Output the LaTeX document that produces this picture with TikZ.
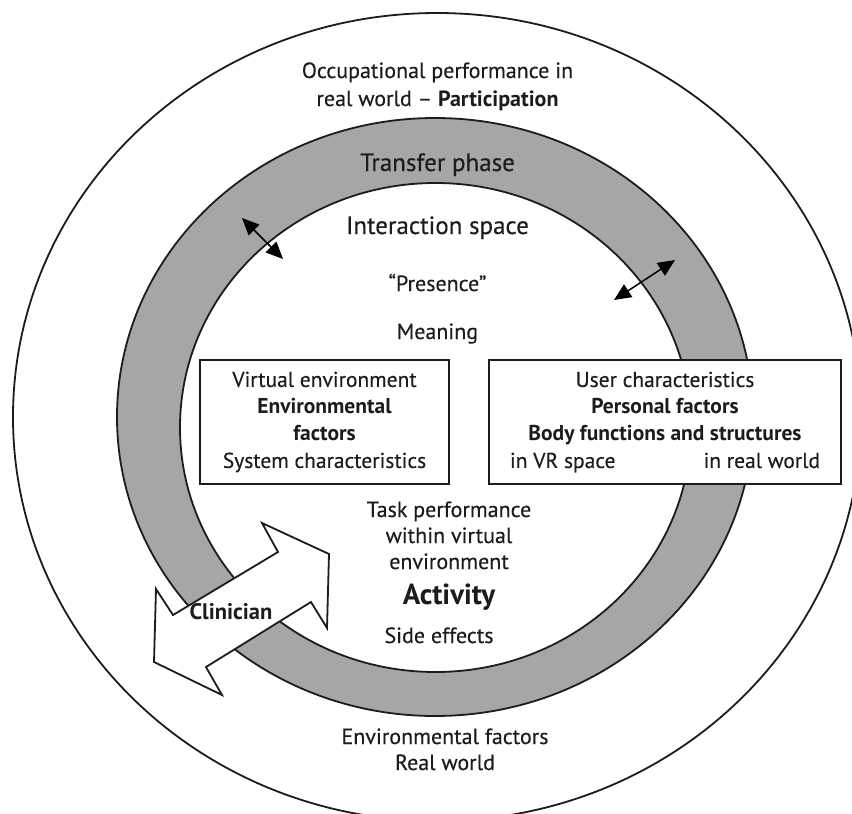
\documentclass[tikz,border=0pt]{standalone}
\usepackage{fontspec}
\setmainfont{PT Sans}[UprightFeatures={FakeBold=0.25}]
\usetikzlibrary{arrows.meta}
\definecolor{ringgray}{RGB}{166,166,166}
\definecolor{ink}{RGB}{28,28,28}
\tikzset{
  circ/.style={draw=ink, line width=1.8pt},
  boxst/.style={draw=ink, line width=1.8pt, fill=white, align=center, inner sep=0pt,
    text=ink, font=\fontsize{21.5}{27}\selectfont},
  lbl/.style={anchor=base, inner sep=0pt, text=ink, font=\fontsize{22}{26}\selectfont},
  biglbl/.style={anchor=base, inner sep=0pt, text=ink, font=\fontsize{25}{29}\selectfont},
  actlbl/.style={anchor=base, inner sep=0pt, text=ink, font=\fontsize{29}{33}\selectfont\bfseries},
  dblarrow/.style={draw=black, line width=1.5pt,
    {Triangle[length=17pt,width=15pt]}-{Triangle[length=17pt,width=15pt]}},
  blockarrow/.style={draw=ink, line width=1.8pt, fill=white, line join=miter},
}
\begin{document}
\begin{tikzpicture}[x=1pt,y=-1pt]
\useasboundingbox (0,0) rectangle (852,814);
\fill[white] (0,0) rectangle (852,814);
% outer circle
\draw[circ] (437,417) ellipse [x radius=424pt, y radius=404pt];
% transfer ring
\fill[ringgray, even odd rule] (435,417) ellipse [x radius=318pt, y radius=299pt]
  (435.5,427.5) ellipse [x radius=255.5pt, y radius=244.5pt];
\draw[circ] (435,417) ellipse [x radius=318pt, y radius=299pt];
\draw[circ] (435.5,427.5) ellipse [x radius=255.5pt, y radius=244.5pt];

% boxes
\node[boxst, minimum width=249pt, minimum height=124pt] (vbox) at (324.5,422)
  {Virtual environment\\\textbf{Environmental}\\\textbf{factors}\\System characteristics};
\node[boxst, minimum width=352pt, minimum height=124pt] (ubox) at (665,422)
  {User characteristics\\\textbf{Personal factors}\\\textbf{Body functions and structures}\\\makebox[310pt]{in VR space\hfill in real world}};

% small double arrows
\coordinate (a1) at (242,218);
\coordinate (a2) at (283,259);
\draw[dblarrow] (a1) -- (a2);
\coordinate (b1) at (614,300);
\coordinate (b2) at (675,260);
\draw[dblarrow] (b1) -- (b2);

% clinician block arrow
\coordinate (p1) at (262,523);
\coordinate (p2) at (329,554);
\coordinate (p3) at (327,628);
\coordinate (p4) at (311,602);
\coordinate (p5) at (206,667);
\coordinate (p6) at (222,695);
\coordinate (p7) at (154,662);
\coordinate (p8) at (156,589);
\coordinate (p9) at (173,615);
\coordinate (p10) at (278,552);
\draw[blockarrow] (p1) -- (p2) -- (p3) -- (p4) -- (p5) -- (p6) -- (p7) -- (p8) -- (p9) -- (p10) -- cycle;
\node[lbl, font=\fontsize{22.5}{26}\selectfont\bfseries] (clin) at (231,619) {Clinician};

% texts
\node[lbl] (occ1) at (437.5,78) {Occupational performance in};
\node[lbl] (occ2) at (437.5,106) {real world – \textbf{Participation}};
\node[biglbl] (transfer) at (437.5,171) {Transfer phase};
\node[biglbl] (inter) at (437.5,234) {Interaction space};
\node[lbl] (pres) at (437.5,291) {“Presence”};
\node[lbl] (mean) at (437.5,339) {Meaning};
\node[lbl] (task1) at (449,517) {Task performance};
\node[lbl] (task2) at (449,543) {within virtual};
\node[lbl] (task3) at (449,569) {environment};
\node[actlbl] (act) at (449,604) {Activity};
\node[lbl] (side) at (439,643) {Side effects};
\node[lbl] (env1) at (445,744) {Environmental factors};
\node[lbl] (env2) at (445,770) {Real world};
\end{tikzpicture}
\end{document}
